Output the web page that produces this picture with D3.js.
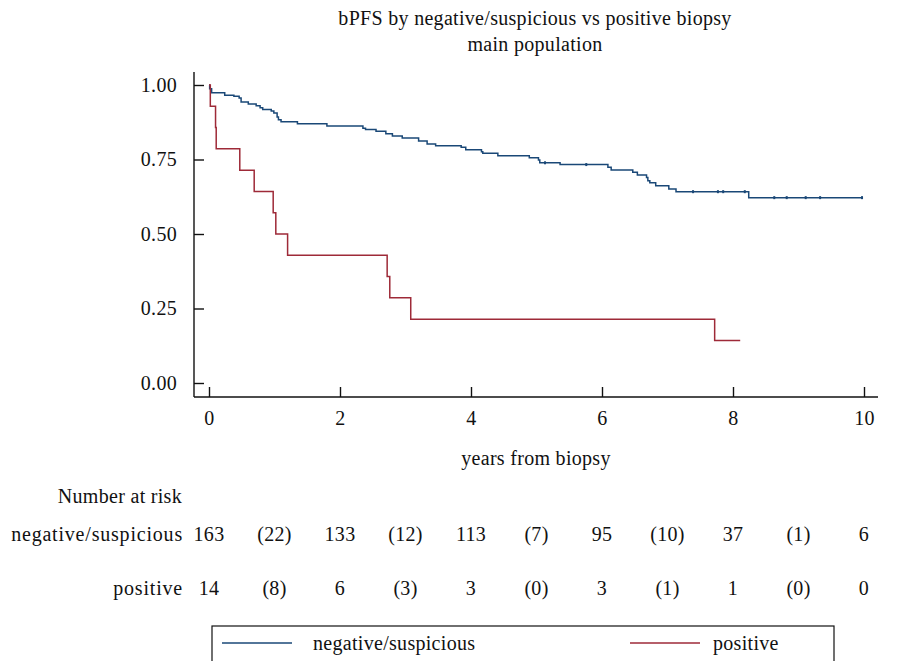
<!DOCTYPE html>
<html>
<head>
<meta charset="utf-8">
<script src="https://d3js.org/d3.v7.min.js"></script>
<style>
  body { margin: 0; background: #fff; }
  text { font-family: "Liberation Serif", "DejaVu Serif", serif; fill: #111; letter-spacing: 0.3px; }
</style>
</head>
<body>
<div id="chart"></div>
<script>
// data
var titleLines = ["bPFS by negative/suspicious vs positive biopsy", "main population"];
var groups = ["negative/suspicious", "positive"];

// negative/suspicious: event times (years) and survival after each step
var negTimes = [0, 0.01, 0.04, 0.24, 0.38, 0.46, 0.49, 0.60, 0.72, 0.78, 0.82, 0.95, 0.99, 1.04, 1.06, 1.10,
                1.35, 1.80, 2.35, 2.39, 2.55, 2.70, 2.80, 2.95, 3.20, 3.33, 3.46, 3.85, 3.92, 4.16, 4.18,
                4.41, 4.89, 5.03, 5.05, 5.36, 6.09, 6.14, 6.47, 6.54, 6.68, 6.70, 6.73, 6.82, 7.02, 7.13,
                8.24, 9.97];
var negSurv = [1, 0.987, 0.974, 0.966, 0.962, 0.956, 0.943, 0.936, 0.930, 0.924, 0.918, 0.913, 0.906, 0.893, 0.883, 0.877,
               0.870, 0.862, 0.855, 0.851, 0.845, 0.836, 0.829, 0.822, 0.812, 0.802, 0.796, 0.791, 0.783, 0.776, 0.771,
               0.763, 0.756, 0.748, 0.739, 0.733, 0.724, 0.715, 0.707, 0.698, 0.690, 0.679, 0.672, 0.662, 0.651, 0.642,
               0.622, 0.622];
var negCensor = [5.13, 5.76, 7.39, 7.77, 7.85, 8.18, 8.63, 8.82, 9.11, 9.33, 9.97];

// positive
var posTimes = [0, 0.02, 0.10, 0.11, 0.47, 0.69, 0.98, 1.02, 1.20, 2.72, 2.76, 3.08, 7.72, 8.11];
var posSurv = [1, 0.929, 0.857, 0.786, 0.714, 0.643, 0.571, 0.500, 0.429, 0.357, 0.286, 0.214, 0.143, 0.143];

var xTicks = [0, 2, 4, 6, 8, 10];
var yTicks = [0, 0.25, 0.5, 0.75, 1];

// number at risk table
var riskTimes = [0, 1, 2, 3, 4, 5, 6, 7, 8, 9, 10];
var riskNeg = ["163", "(22)", "133", "(12)", "113", "(7)", "95", "(10)", "37", "(1)", "6"];
var riskPos = ["14", "(8)", "6", "(3)", "3", "(0)", "3", "(1)", "1", "(0)", "0"];

var colors = ["#1a4877", "#9e2a38"];

var svgWidth = 897;
var svgHeight = 661;
var fontSize = 20;

var svg = d3.select("#chart")
    .append("svg")
    .attr("width", svgWidth)
    .attr("height", svgHeight);

var xScale = d3.scaleLinear().domain([0, 10]).range([209, 864]);
var yScale = d3.scaleLinear().domain([0, 1]).range([383, 85]);

// title
svg.selectAll(".title")
    .data(titleLines)
    .enter()
    .append("text")
    .attr("x", 535)
    .attr("y", (d, i) => 25 + i * 26)
    .attr("text-anchor", "middle")
    .style("font-size", fontSize + "px")
    .text(d => d);

// axes (ticks point inward)
var xAxis = svg.append("g")
    .attr("transform", "translate(0,397)")
    .call(d3.axisBottom(xScale).tickValues(xTicks).tickSize(-10).tickSizeOuter(0).tickPadding(14));
xAxis.select(".domain").attr("d", "M194,0H878");

var yAxis = svg.append("g")
    .attr("transform", "translate(194,0)")
    .call(d3.axisLeft(yScale).tickValues(yTicks).tickSize(-10).tickSizeOuter(0).tickPadding(17)
        .tickFormat(d3.format(".2f")));
yAxis.select(".domain").attr("d", "M0,72V397");

svg.selectAll(".tick text")
    .style("font-size", fontSize + "px")
    .style("font-family", "Liberation Serif");
svg.selectAll(".domain, .tick line")
    .attr("stroke", "#111")
    .attr("stroke-width", 1.4);

svg.append("text")
    .attr("x", 536)
    .attr("y", 465)
    .attr("text-anchor", "middle")
    .style("font-size", fontSize + "px")
    .text("years from biopsy");

// survival curves
var line = d3.line()
    .x(d => xScale(d[0]))
    .y(d => yScale(d[1]))
    .curve(d3.curveStepAfter);

var curves = [d3.zip(negTimes, negSurv), d3.zip(posTimes, posSurv)];

svg.selectAll(".km")
    .data(curves)
    .enter()
    .append("path")
    .attr("d", line)
    .attr("fill", "none")
    .attr("stroke", (d, i) => colors[i])
    .attr("stroke-width", 1.5);

// censor marks on the negative curve
function survAt(t) {
    var i = d3.bisectRight(negTimes, t) - 1;
    return negSurv[Math.max(i, 0)];
}
svg.selectAll(".censor")
    .data(negCensor)
    .enter()
    .append("line")
    .attr("x1", d => xScale(d))
    .attr("x2", d => xScale(d))
    .attr("y1", d => yScale(survAt(d)) - 1.5)
    .attr("y2", d => yScale(survAt(d)) + 1.5)
    .attr("stroke", colors[0])
    .attr("stroke-width", 2);

// number at risk
svg.append("text")
    .attr("x", 182)
    .attr("y", 503)
    .attr("text-anchor", "end")
    .style("font-size", fontSize + "px")
    .text("Number at risk");

var riskRows = [riskNeg, riskPos];
riskRows.forEach(function(row, r) {
    var yy = 541 + r * 54;
    svg.append("text")
        .attr("x", 183)
        .attr("y", yy)
        .attr("text-anchor", "end")
        .style("font-size", fontSize + "px")
        .style("letter-spacing", "0.8px")
        .text(groups[r]);
    svg.selectAll(".risk" + r)
        .data(row)
        .enter()
        .append("text")
        .attr("x", (d, i) => xScale(riskTimes[i]))
        .attr("y", yy)
        .attr("text-anchor", "middle")
        .style("font-size", fontSize + "px")
        .text(d => d);
});

// legend
svg.append("rect")
    .attr("x", 212)
    .attr("y", 626)
    .attr("width", 622)
    .attr("height", 60)
    .attr("fill", "none")
    .attr("stroke", "#111")
    .attr("stroke-width", 1.2);

var legendX = [222, 630];
var legendGap = [91, 83];
groups.forEach(function(g, i) {
    svg.append("line")
        .attr("x1", legendX[i])
        .attr("x2", legendX[i] + 70)
        .attr("y1", 643)
        .attr("y2", 643)
        .attr("stroke", colors[i])
        .attr("stroke-width", 1.5);
    svg.append("text")
        .attr("x", legendX[i] + legendGap[i])
        .attr("y", 650)
        .style("font-size", fontSize + "px")
        .text(g);
});
</script>
</body>
</html>
